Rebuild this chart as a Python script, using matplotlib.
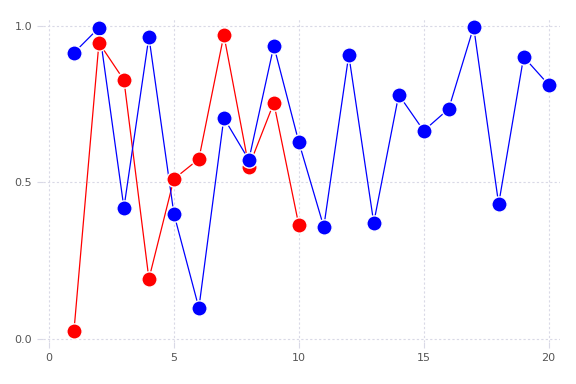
import matplotlib
matplotlib.use("Agg")
import matplotlib.pyplot as plt

x_blue = list(range(1, 21))
y_blue = [0.914, 0.994, 0.419, 0.965, 0.400, 0.099, 0.706, 0.572, 0.936, 0.629,
          0.358, 0.907, 0.371, 0.780, 0.665, 0.735, 0.997, 0.431, 0.901, 0.812]
x_red = list(range(1, 11))
y_red = [0.026, 0.946, 0.827, 0.192, 0.511, 0.575, 0.971, 0.550, 0.754, 0.364]

x_ticks = [0, 5, 10, 15, 20]
y_ticks = [0.0, 0.5, 1.0]
red_on_top = [2]

fig = plt.figure(figsize=(5.76, 3.84), dpi=100)
ax = fig.add_axes([0.0742, 0.109, 0.8978, 0.844])

ax.plot(x_red, y_red, color="#ff0000", lw=0.9, zorder=2)
ax.plot(x_blue, y_blue, color="#0000ff", lw=0.9, zorder=2)
for xi, yi in zip(x_red, y_red):
    z = 5 if xi in red_on_top else 3
    ax.plot([xi], [yi], "o", color="#ff0000", ms=11, mec="white", mew=1.0, zorder=z)
for xi, yi in zip(x_blue, y_blue):
    ax.plot([xi], [yi], "o", color="#0000ff", ms=11, mec="white", mew=1.0, zorder=4)

ax.set_xlim(-0.25, 20.45)
ax.set_ylim(-0.01, 1.025)
ax.set_xticks(x_ticks)
ax.set_yticks(y_ticks)
ax.set_yticklabels([f"{v:.1f}" for v in y_ticks])
ax.grid(True, color="#d9d9e6", linestyle=(0, (2, 2)), lw=0.8, zorder=0)
ax.set_axisbelow(True)
for s in ax.spines.values():
    s.set_visible(False)
ax.tick_params(colors="#d9d9e6", labelcolor="#555555", labelsize=8, length=4, width=0.8)

fig.savefig("out.png", dpi=100)
